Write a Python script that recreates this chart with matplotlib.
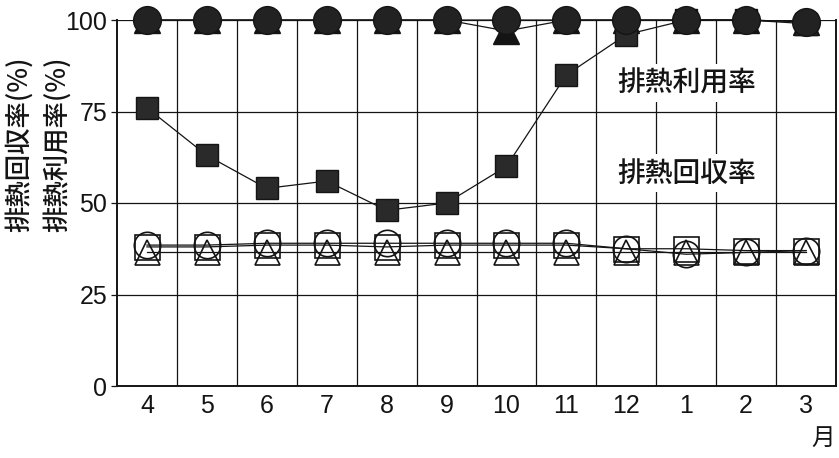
import matplotlib
matplotlib.use("Agg")
import matplotlib.pyplot as plt

plt.rcParams['font.family'] = ['Noto Sans CJK JP', 'DejaVu Sans']

months = ["4", "5", "6", "7", "8", "9", "10", "11", "12", "1", "2", "3"]

# 排熱利用率 (filled markers)
use_circle = [100, 100, 100, 100, 100, 100, 100, 100, 100, 100, 100, 99.5]
use_triangle = [100, 100, 100, 100, 100, 100, 97, 100, 100, 100, 100, 99.5]
use_square = [76, 63, 54, 56, 48, 50, 60, 85, 96, 100, 100, 99]

# 排熱回収率 (open markers)
rec_circle = [38.5, 38.5, 39, 39, 39, 39, 39, 39, 37.5, 36, 36.5, 37]
rec_square = [38, 38, 38.5, 38.5, 38, 38.5, 38.5, 38.5, 37.5, 37.5, 37, 37]
rec_triangle = [36.5, 36.5, 36.5, 36.5, 36.5, 36.5, 36.5, 36.5, 36.5, 36.5, 36.5, 36.5]

x = list(range(len(months)))

fig = plt.figure(figsize=(8.39, 4.58), dpi=100)
ax = fig.add_axes([117 / 839, 1 - 386 / 458, (836 - 117) / 839, (386 - 20) / 458])

ink = '#141414'

# grid: horizontal at 25/50/75, vertical between months
for yv in [25, 50, 75, 100]:
    ax.axhline(yv, color=ink, lw=0.9, zorder=1)
for xv in range(len(months) - 1):
    ax.axvline(xv + 0.5, color=ink, lw=0.9, zorder=1)

line_kw = dict(color=ink, lw=0.9, clip_on=False, zorder=3)

ax.plot(x, rec_triangle, marker='^', ms=18, mfc='none', mec=ink, mew=1.2, **line_kw)
ax.plot(x, rec_square, marker='s', ms=18, mfc='none', mec=ink, mew=1.2, **line_kw)
ax.plot(x, rec_circle, marker='o', ms=19, mfc='none', mec=ink, mew=1.2, **line_kw)

ax.plot(x, use_triangle, marker='^', ms=19, mfc=ink, mec=ink, **line_kw)
ax.plot(x, use_square, marker='s', ms=16, mfc='#2a2a2a', mec=ink, **line_kw)
ax.plot(x, use_circle, marker='o', ms=20, mfc='#222222', mec=ink, **line_kw)

ax.text(9.0, 82.8, "排熱利用率", ha='center', va='center', fontsize=20, color=ink,
        fontweight='medium', zorder=4,
        bbox=dict(facecolor='white', edgecolor='none', pad=3))
ax.text(9.0, 58.2, "排熱回収率", ha='center', va='center', fontsize=20, color=ink,
        fontweight='medium', zorder=4,
        bbox=dict(facecolor='white', edgecolor='none', pad=3))

ax.set_xlim(-0.5, len(months) - 0.5)
ax.set_ylim(0, 100)
ax.set_yticks([0, 25, 50, 75, 100])
ax.set_yticklabels(["0", "25", "50", "75", "100"])
ax.set_xticks(x)
ax.set_xticklabels(months)
ax.tick_params(axis='both', labelsize=18, colors=ink, length=0, pad=6)
ax.tick_params(axis='y', length=4, width=0.9, direction='out', pad=3)
for lab in ax.get_xticklabels() + ax.get_yticklabels():
    lab.set_fontfamily(['Liberation Sans', 'DejaVu Sans'])

for side in ['left', 'bottom', 'right']:
    ax.spines[side].set_color(ink)
    ax.spines[side].set_linewidth(1.4)
ax.spines['top'].set_visible(False)

fig.text(38 / 839, 1 - 144 / 458, "排熱回収率(%)\n排熱利用率(%)", rotation=90,
         ha='center', va='center', fontsize=19, color=ink, linespacing=1.45,
         fontweight='medium')
fig.text(823 / 839, 1 - 438 / 458, "月", ha='center', va='center', fontsize=17, color=ink)

fig.savefig("out.png", dpi=100, facecolor='white')
